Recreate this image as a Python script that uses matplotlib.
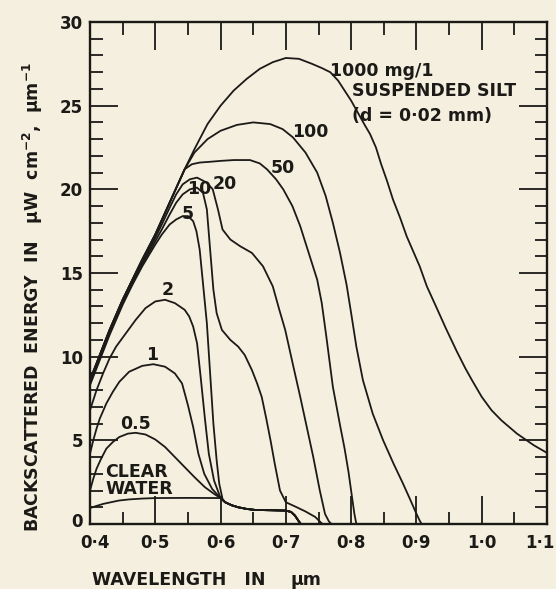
import matplotlib
matplotlib.use("Agg")
import matplotlib.pyplot as plt
import matplotlib.transforms as mtransforms
from matplotlib.ticker import MultipleLocator, FixedFormatter, FixedLocator

# backscattered energy vs wavelength, suspended silt (d = 0.02 mm)
# values

# shared low tail for the low concentrations (past 0.6 um)
tail_wl = [0.607, 0.617, 0.627, 0.64, 0.653, 0.68, 0.7, 0.708, 0.714, 0.72, 0.723]
tail_e = [1.3, 1.12, 1.0, 0.9, 0.84, 0.82, 0.8, 0.72, 0.5, 0.15, 0.0]

clear_wl = [0.4, 0.41, 0.42, 0.432, 0.444, 0.46, 0.48, 0.5, 0.55, 0.6]
clear_e = [0.95, 1.08, 1.2, 1.3, 1.4, 1.47, 1.52, 1.55, 1.56, 1.55]

c05_wl = [0.4, 0.405, 0.41, 0.417, 0.425, 0.435, 0.445, 0.458, 0.47, 0.485, 0.5,
          0.515, 0.53, 0.545, 0.56, 0.576, 0.59, 0.6]
c05_e = [2.0, 2.7, 3.3, 3.9, 4.5, 4.9, 5.2, 5.4, 5.45, 5.35, 5.05,
         4.6, 4.0, 3.4, 2.8, 2.2, 1.8, 1.55]

c1_wl = [0.4, 0.405, 0.41, 0.415, 0.425, 0.435, 0.445, 0.46, 0.48, 0.497, 0.515,
         0.53, 0.541, 0.55, 0.558, 0.566, 0.575, 0.587, 0.6]
c1_e = [4.2, 5.0, 5.7, 6.3, 7.2, 7.9, 8.5, 9.1, 9.45, 9.55, 9.4,
        9.0, 8.4, 7.1, 5.8, 4.2, 3.0, 2.1, 1.55]

c2_wl = [0.4, 0.41, 0.42, 0.43, 0.44, 0.455, 0.47, 0.485, 0.5, 0.515, 0.53,
         0.545, 0.552, 0.558, 0.564, 0.57, 0.576, 0.582, 0.59, 0.6]
c2_e = [6.8, 8.0, 9.0, 9.9, 10.6, 11.4, 12.2, 12.9, 13.3, 13.4, 13.2,
        12.8, 12.4, 11.8, 10.8, 8.6, 6.3, 4.2, 2.6, 1.55]

c5_wl = [0.4, 0.41, 0.42, 0.43, 0.44, 0.45, 0.465, 0.48, 0.5, 0.51, 0.522, 0.532,
         0.542, 0.55, 0.558, 0.563, 0.568, 0.574, 0.579, 0.584, 0.589, 0.594,
         0.598, 0.603]
c5_e = [8.3, 9.3, 10.3, 11.3, 12.2, 13.1, 14.3, 15.4, 16.7, 17.3, 17.9, 18.2,
        18.4, 18.4, 18.1, 17.5, 16.4, 14.0, 12.0, 9.0, 6.0, 3.8,
        2.4, 1.5]

c10_wl = [0.4, 0.41, 0.42, 0.43, 0.44, 0.45, 0.465, 0.48, 0.5, 0.51, 0.522, 0.532,
          0.542, 0.553, 0.564, 0.573, 0.579, 0.584, 0.589, 0.594, 0.602, 0.615,
          0.627, 0.637, 0.648, 0.656, 0.663, 0.67, 0.677, 0.683, 0.691, 0.7,
          0.714, 0.73, 0.745, 0.752, 0.756]
c10_e = [8.4, 9.4, 10.4, 11.4, 12.3, 13.2, 14.4, 15.5, 16.9, 17.6, 18.5, 19.2,
         19.7, 20.0, 20.1, 19.8, 18.8, 16.4, 14.0, 12.6, 11.6, 11.0,
         10.6, 10.1, 9.2, 8.4, 7.6, 6.3, 4.9, 3.6, 2.0, 1.3,
         1.05, 0.75, 0.42, 0.15, 0.0]

c20_wl = [0.4, 0.41, 0.42, 0.43, 0.44, 0.45, 0.465, 0.48, 0.5, 0.51, 0.522, 0.532,
          0.542, 0.553, 0.564, 0.579, 0.588, 0.596, 0.603, 0.615, 0.63, 0.648,
          0.665, 0.68, 0.69, 0.699, 0.711, 0.722, 0.732, 0.742, 0.752, 0.76,
          0.766, 0.77]
c20_e = [8.5, 9.5, 10.5, 11.5, 12.4, 13.3, 14.5, 15.6, 17.1, 17.9, 18.9, 19.7,
         20.3, 20.6, 20.7, 20.4, 20.0, 18.8, 17.6, 17.0, 16.6, 16.2,
         15.4, 14.2, 12.8, 11.6, 9.5, 7.6, 5.8, 4.0, 2.0, 0.6,
         0.15, 0.0]

c50_wl = [0.4, 0.41, 0.42, 0.43, 0.44, 0.45, 0.465, 0.48, 0.5, 0.515, 0.53, 0.545,
          0.556, 0.568, 0.585, 0.6, 0.62, 0.645, 0.66, 0.671, 0.685, 0.696,
          0.71, 0.722, 0.735, 0.748, 0.755, 0.762, 0.772, 0.783, 0.79, 0.796,
          0.801, 0.805, 0.808]
c50_e = [8.6, 9.6, 10.6, 11.6, 12.5, 13.4, 14.6, 15.8, 17.3, 18.6, 19.9, 21.2,
         21.5, 21.6, 21.65, 21.7, 21.75, 21.75, 21.55, 21.2, 20.6, 20.0,
         19.0, 17.8, 16.2, 14.6, 13.2, 11.2, 8.2, 5.9, 4.5, 3.1,
         1.7, 0.6, 0.0]

c100_wl = [0.4, 0.41, 0.42, 0.43, 0.44, 0.45, 0.465, 0.48, 0.5, 0.515, 0.53, 0.545,
           0.56, 0.58, 0.6, 0.625, 0.65, 0.676, 0.695, 0.711, 0.73, 0.748,
           0.761, 0.772, 0.783, 0.793, 0.8, 0.808, 0.818, 0.833, 0.849, 0.865,
           0.879, 0.89, 0.899, 0.905, 0.908]
c100_e = [8.6, 9.6, 10.6, 11.6, 12.5, 13.4, 14.6, 15.8, 17.3, 18.6, 19.9, 21.2,
          22.2, 23.0, 23.5, 23.85, 24.0, 23.9, 23.6, 23.1, 22.2, 21.0,
          19.6, 18.0, 16.2, 14.3, 12.6, 10.6, 8.6, 6.6, 5.0, 3.6,
          2.45, 1.5, 0.7, 0.2, 0.0]

c1000_wl = [0.4, 0.41, 0.42, 0.43, 0.44, 0.45, 0.465, 0.48, 0.5, 0.515, 0.53, 0.545,
            0.56, 0.58, 0.6, 0.62, 0.64, 0.66, 0.68, 0.7, 0.72, 0.74, 0.755, 0.768,
            0.78, 0.79, 0.8, 0.81, 0.82, 0.829, 0.838, 0.846, 0.855, 0.864, 0.875,
            0.885, 0.895, 0.905, 0.916, 0.93, 0.945, 0.962, 0.975, 0.985,
            1.0, 1.015, 1.03, 1.054, 1.08, 1.1]
c1000_e = [8.6, 9.6, 10.6, 11.6, 12.5, 13.4, 14.6, 15.8, 17.3, 18.6, 19.9, 21.2,
           22.4, 23.9, 25.0, 25.9, 26.6, 27.2, 27.6, 27.85, 27.8, 27.5, 27.25, 27.0,
           26.5, 25.9, 25.3, 24.6, 23.9, 23.3, 22.5, 21.5, 20.5, 19.4, 18.3,
           17.2, 16.3, 15.4, 14.2, 13.0, 11.7, 10.3, 9.3, 8.6,
           7.6, 6.8, 6.2, 5.4, 4.7, 4.25]

x_ticks = [0.4, 0.5, 0.6, 0.7, 0.8, 0.9, 1.0, 1.1]
x_tick_labels = ["0·4", "0·5", "0·6", "0·7", "0·8", "0·9", "1·0", "1·1"]
y_ticks = [0, 5, 10, 15, 20, 25, 30]

ink = "#1b1a17"
paper = "#f4efdf"

plt.rcParams["font.family"] = ["DejaVu Sans"]
plt.rcParams["mathtext.fontset"] = "dejavusans"
plt.rcParams["mathtext.default"] = "bf"

fig = plt.figure(figsize=(5.56, 5.89), dpi=100, facecolor=paper)
ax = fig.add_axes([90 / 556, 1 - 524 / 589, 457 / 556, 502 / 589])
ax.set_facecolor(paper)

low_curves = [(clear_wl, clear_e), (c05_wl, c05_e), (c1_wl, c1_e),
              (c2_wl, c2_e), (c5_wl, c5_e)]
for wl, e in low_curves:
    ax.plot(wl + tail_wl, e + tail_e, color=ink, lw=1.3, solid_joinstyle="round")

for wl, e in [(c10_wl, c10_e), (c20_wl, c20_e), (c50_wl, c50_e),
              (c100_wl, c100_e), (c1000_wl, c1000_e)]:
    ax.plot(wl, e, color=ink, lw=1.3, solid_joinstyle="round")

ax.set_xlim(0.4, 1.1)
ax.set_ylim(0, 30)

ax.xaxis.set_major_locator(FixedLocator(x_ticks))
ax.xaxis.set_major_formatter(FixedFormatter(x_tick_labels))
ax.xaxis.set_minor_locator(MultipleLocator(0.05))
ax.yaxis.set_major_locator(FixedLocator(y_ticks))
ax.yaxis.set_minor_locator(MultipleLocator(1))

ax.tick_params(which="both", direction="in", top=True, right=True, color=ink,
               width=1.3, labelcolor=ink, labelsize=12)
ax.tick_params(which="major", length=20, pad=5)
ax.tick_params(axis="x", which="major", pad=7)
ax.tick_params(which="minor", length=9)
for lab in ax.get_xticklabels() + ax.get_yticklabels():
    lab.set_fontweight("bold")
for s in ax.spines.values():
    s.set_color(ink)
    s.set_linewidth(1.7)

# first x label would touch the "0"; last one sits on the figure edge
xlabs = ax.get_xticklabels()
first = xlabs[0]
first.set_transform(first.get_transform() +
                    mtransforms.ScaledTranslation(5 / 100, 0, fig.dpi_scale_trans))
last = xlabs[-1]
last.set_horizontalalignment("right")
last.set_transform(last.get_transform() +
                   mtransforms.ScaledTranslation(8 / 100, 0, fig.dpi_scale_trans))
zero = ax.get_yticklabels()[0]
zero.set_transform(zero.get_transform() +
                   mtransforms.ScaledTranslation(0, 4 / 100, fig.dpi_scale_trans))

txt = dict(color=ink, fontsize=12.5, fontweight="bold")
ax.text(0.768, 27.1, "1000 mg/1", ha="left", va="center", **txt)
ax.text(0.801, 25.9, "SUSPENDED SILT", ha="left", va="center", **txt)
ax.text(0.801, 24.4, "(d = 0·02 mm)", ha="left", va="center", **txt)
ax.text(0.738, 23.4, "100", ha="center", va="center", **txt)
ax.text(0.696, 21.3, "50", ha="center", va="center", **txt)
ax.text(0.607, 20.3, "20", ha="center", va="center", **txt)
ax.text(0.568, 20.0, "10", ha="center", va="center", **txt)
ax.text(0.55, 18.5, "5", ha="center", va="center", **txt)
ax.text(0.519, 14.0, "2", ha="center", va="center", **txt)
ax.text(0.495, 10.1, "1", ha="center", va="center", **txt)
ax.text(0.469, 6.0, "0.5", ha="center", va="center", **txt)
ax.text(0.423, 3.1, "CLEAR", ha="left", va="center", **txt)
ax.text(0.423, 2.1, "WATER", ha="left", va="center", **txt)

fig.text(33 / 556, 1 - 297 / 589,
         r"BACKSCATTERED  ENERGY  IN   μW  cm$^{-2}$,  μm$^{-1}$",
         rotation=90, ha="center", va="center", **txt)
fig.text(92 / 556, 1 - 580 / 589, "WAVELENGTH   IN", ha="left", va="center", **txt)
fig.text(290 / 556, 1 - 580 / 589, "μm", ha="left", va="center", **txt)

fig.savefig("out.png", dpi=100, facecolor=paper)
